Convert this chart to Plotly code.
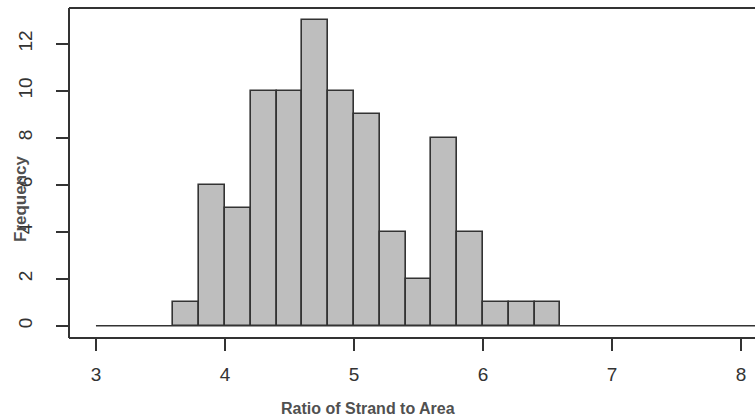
import plotly.graph_objects as go

# Histogram data: bins of width 0.2 from 3.0 to 8.2
bin_start = 3.0
bin_width = 0.2
counts = [0, 0, 0, 1, 6, 5, 10, 10, 13, 10, 9, 4, 2, 8, 4, 1, 1, 1,
          0, 0, 0, 0, 0, 0, 0, 0]
x_ticks = [3, 4, 5, 6, 7, 8]
y_ticks = [0, 2, 4, 6, 8, 10, 12]
x_title = "Ratio of Strand to Area"
y_title = "Frequency"

centers = [bin_start + bin_width * (i + 0.5) for i in range(len(counts))]
edges_lo = bin_start
edges_hi = bin_start + bin_width * len(counts)

ink = "#333333"
title_ink = "#505050"
fig = go.Figure()
# zero baseline for empty bins (R draws zero-height rectangles)
fig.add_trace(go.Scatter(x=[edges_lo, edges_hi], y=[0, 0], mode="lines",
                         line=dict(color=ink, width=1.6), hoverinfo="skip"))
nz = [(c, v) for c, v in zip(centers, counts) if v > 0]
fig.add_trace(go.Bar(x=[c for c, _ in nz], y=[v for _, v in nz], width=bin_width,
                     marker=dict(color="#bebebe", line=dict(color=ink, width=1.6))))

fig.update_layout(
    width=755, height=420,
    margin=dict(l=69, r=0, t=8, b=82),
    plot_bgcolor="white", paper_bgcolor="white",
    showlegend=False, bargap=0,
    font=dict(family="Liberation Sans, Arial, sans-serif", color=ink),
    xaxis=dict(range=[2.791, 8.109], tickvals=x_ticks, ticktext=[str(v) for v in x_ticks],
               ticks="outside", ticklen=12, tickwidth=1.6, tickcolor=ink,
               showgrid=False, zeroline=False, showline=False,
               tickfont=dict(size=19, color=ink), ticklabelstandoff=7),
    yaxis=dict(range=[-0.52, 13.52], tickvals=y_ticks, ticktext=[str(v) for v in y_ticks],
               ticks="outside", ticklen=12, tickwidth=1.6, tickcolor=ink,
               showgrid=False, zeroline=False, showline=False, tickangle=-90,
               tickfont=dict(size=19, color=ink), ticklabelstandoff=16),
    shapes=[
        dict(type="line", xref="paper", yref="paper", x0=0, x1=1.05, y0=1, y1=1,
             line=dict(color=ink, width=2)),
        dict(type="line", xref="paper", yref="paper", x0=0, x1=1.05, y0=0, y1=0,
             line=dict(color=ink, width=2)),
        dict(type="line", xref="paper", yref="paper", x0=0, x1=0, y0=0, y1=1,
             line=dict(color=ink, width=2)),
    ],
    annotations=[
        dict(text="<b>" + x_title + "</b>", xref="paper", yref="paper",
             x=(368 - 69) / 686, y=-(408 - 338) / 330,
             showarrow=False, font=dict(size=16, color=title_ink, family="Liberation Sans, Arial"),
             xanchor="center", yanchor="middle"),
        dict(text="<b>" + y_title + "</b>", xref="paper", yref="paper",
             x=-(69 - 20) / 686, y=(338 - 199) / 330,
             showarrow=False, textangle=-90, font=dict(size=17, color=title_ink, family="Liberation Sans, Arial"),
             xanchor="center", yanchor="middle"),
    ],
)
fig.write_html("out.html")
